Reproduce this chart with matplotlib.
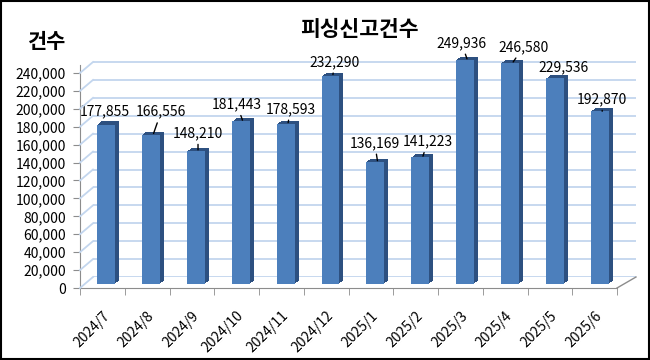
import matplotlib
matplotlib.use("Agg")
import matplotlib.pyplot as plt
from matplotlib.transforms import offset_copy
from matplotlib.lines import Line2D
from matplotlib.patches import Rectangle
import numpy as np

plt.rcParams['font.family'] = ['Noto Sans CJK KR', 'DejaVu Sans']

months = ["2024/7", "2024/8", "2024/9", "2024/10", "2024/11", "2024/12",
          "2025/1", "2025/2", "2025/3", "2025/4", "2025/5", "2025/6"]
counts = [177855, 166556, 148210, 181443, 178593, 232290,
          136169, 141223, 249936, 246580, 229536, 192870]
yticks = list(range(0, 240001, 20000))

# label offsets from the bar top, in pixels (layout only)
label_dx = [-3, 8, 0, -6, 3, 2, -3, 5, -6, 11, 6, 0]
label_dy = [13, 23, 18, 17, 15, 14, 19, 16, 17, 16, 11, 12]
leader = [False, True, True, True, True, True, True, True, True, True, False, True]

W, H = 650, 360
YMAX = 249000
fig = plt.figure(figsize=(W / 100, H / 100), dpi=100)


def rect(left, right, zero_y):
    top_y = zero_y - YMAX * 215 / 240000
    return [left / W, (H - zero_y) / H, (right - left) / W, (zero_y - top_y) / H]


grid_col = "#C3D6EE"
axis_col = "#8C8C8C"
front_col = "#4C7FBC"
side_col = "#2D5080"
x = np.arange(len(months))

# back wall with gridlines
axb = fig.add_axes(rect(93, 636, 277))
axb.set_xlim(-0.5, len(months) - 0.5)
axb.set_ylim(0, YMAX)
axb.axis("off")
for v in yticks:
    axb.axhline(v, color=grid_col, lw=1.3, zorder=0)

# front plane: axis lines, ticks, labels
ax = fig.add_axes(rect(80, 617, 288))
ax.set_facecolor("none")
ax.set_xlim(-0.5, len(months) - 0.5)
ax.set_ylim(0, YMAX)
for s in ["top", "right"]:
    ax.spines[s].set_visible(False)
ax.spines["left"].set_color(axis_col)
ax.spines["bottom"].set_color(axis_col)
ax.set_yticks(yticks)
ax.set_yticklabels([f"{v:,}" for v in yticks], fontsize=10)
ax.tick_params(axis="y", length=5, color=axis_col, pad=5)
ax.set_xticks(x)
ax.set_xticklabels(months, rotation=45, ha="right", rotation_mode="anchor", fontsize=10)
ax.tick_params(axis="x", which="major", length=0, pad=15)
ax.set_xticks(np.arange(len(months) + 1) - 0.5, minor=True)
ax.tick_params(axis="x", which="minor", length=5, color=axis_col)

# left wall diagonals and floor right edge
inv = fig.transFigure.inverted()
for v in yticks:
    p0 = inv.transform(ax.transData.transform((-0.5, v)))
    p1 = inv.transform(axb.transData.transform((-0.5, v)))
    fig.add_artist(Line2D([p0[0], p1[0]], [p0[1], p1[1]], color=grid_col, lw=1.3))
p0 = inv.transform(ax.transData.transform((len(months) - 0.5, 0)))
p1 = inv.transform(axb.transData.transform((len(months) - 0.5, 0)))
fig.add_artist(Line2D([p0[0], p1[0]], [p0[1], p1[1]], color=axis_col, lw=1))

# bars at mid depth
axr = fig.add_axes(rect(83.5, 622.4, 284))
axr.set_facecolor("none")
axr.set_xlim(-0.5, len(months) - 0.5)
axr.set_ylim(0, YMAX)
axr.axis("off")
for k in range(1, 5):
    tr = offset_copy(axr.transData, fig=fig, x=k, y=0.8 * k, units="dots")
    axr.bar(x, counts, width=0.4, color=side_col, transform=tr, zorder=2, clip_on=False)
axr.bar(x, counts, width=0.4, color=front_col, zorder=3, clip_on=False)

for i, v in enumerate(counts):
    arrow = dict(arrowstyle="-", color="black", lw=1, shrinkA=1, shrinkB=1) if leader[i] else None
    axr.annotate(f"{v:,}", xy=(x[i] + 0.05, v), xytext=(label_dx[i], label_dy[i]),
                 textcoords="offset pixels", ha="center", va="center",
                 fontsize=10, annotation_clip=False, zorder=5, arrowprops=arrow)

fig.text(359 / W, 1 - 29 / H, "피싱신고건수", ha="center", va="center",
         fontsize=15.5, fontweight="bold")
fig.text(47 / W, 1 - 42 / H, "건수", ha="center", va="center",
         fontsize=15, fontweight="bold")

fig.add_artist(Rectangle((0.001, 0.002), 0.997, 0.995, transform=fig.transFigure,
                         fill=False, edgecolor="black", lw=1.5))

fig.savefig("out.png", dpi=100)
